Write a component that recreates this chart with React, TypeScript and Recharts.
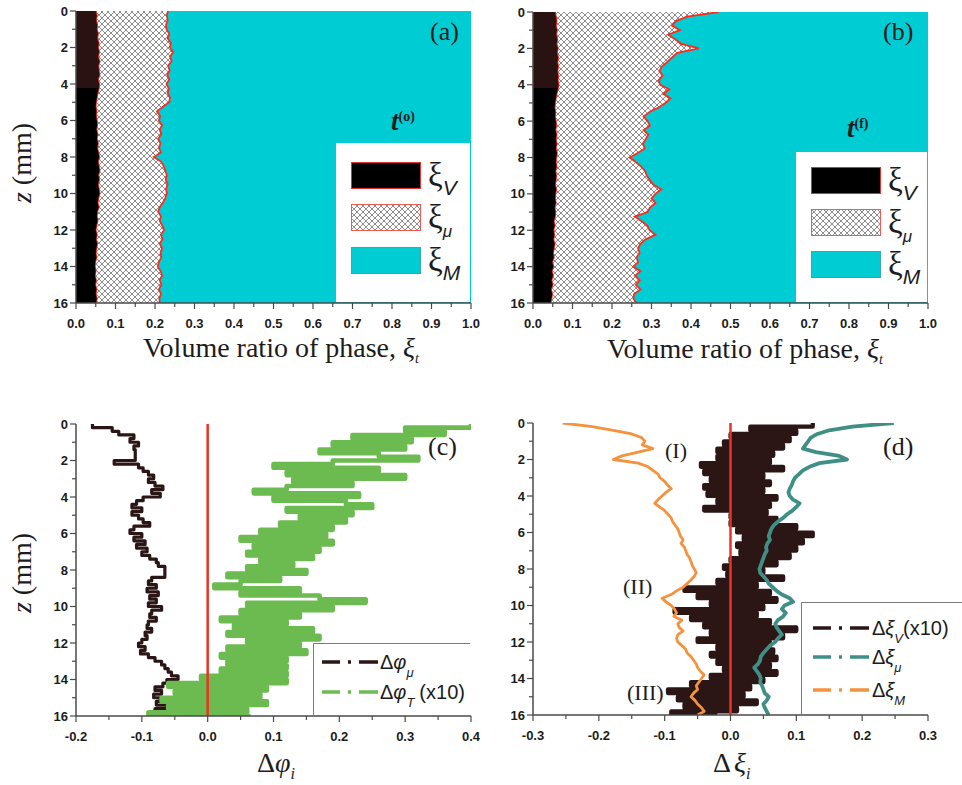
import React from 'react'
import {
  ComposedChart,
  Area,
  Line,
  XAxis,
  YAxis,
  CartesianGrid,
  ReferenceLine,
  Legend,
} from 'recharts'

// depth grids (mm)
const Z_QUARTER = [
  0, 0.25, 0.5, 0.75, 1, 1.25, 1.5, 1.75, 2, 2.25, 2.5, 2.75, 3, 3.25, 3.5, 3.75, 4, 4.25, 4.5, 4.75, 5,
  5.25, 5.5, 5.75, 6, 6.25, 6.5, 6.75, 7, 7.25, 7.5, 7.75, 8, 8.25, 8.5, 8.75, 9, 9.25, 9.5, 9.75, 10,
  10.25, 10.5, 10.75, 11, 11.25, 11.5, 11.75, 12, 12.25, 12.5, 12.75, 13, 13.25, 13.5, 13.75, 14, 14.25,
  14.5, 14.75, 15, 15.25, 15.5, 15.75, 16,
]
const Z_FIFTH = [
  0, 0.2, 0.4, 0.6, 0.8, 1, 1.2, 1.4, 1.6, 1.8, 2, 2.2, 2.4, 2.6, 2.8, 3, 3.2, 3.4, 3.6, 3.8, 4, 4.2, 4.4,
  4.6, 4.8, 5, 5.2, 5.4, 5.6, 5.8, 6, 6.2, 6.4, 6.6, 6.8, 7, 7.2, 7.4, 7.6, 7.8, 8, 8.2, 8.4, 8.6, 8.8, 9,
  9.2, 9.4, 9.6, 9.8, 10, 10.2, 10.4, 10.6, 10.8, 11, 11.2, 11.4, 11.6, 11.8, 12, 12.2, 12.4, 12.6, 12.8,
  13, 13.2, 13.4, 13.6, 13.8, 14, 14.2, 14.4, 14.6, 14.8, 15, 15.2, 15.4, 15.6, 15.8, 16,
]

// (a) t(o) volume ratios
const XI_V_A = [
  0.052, 0.055, 0.053, 0.056, 0.055, 0.058, 0.056, 0.06, 0.058, 0.061, 0.058, 0.062, 0.059, 0.06, 0.062,
  0.058, 0.061, 0.06, 0.057, 0.055, 0.053, 0.052, 0.054, 0.053, 0.055, 0.056, 0.054, 0.057, 0.055, 0.058,
  0.056, 0.059, 0.061, 0.058, 0.06, 0.062, 0.059, 0.061, 0.058, 0.06, 0.062, 0.059, 0.057, 0.06, 0.056,
  0.055, 0.057, 0.054, 0.052, 0.055, 0.053, 0.056, 0.054, 0.052, 0.054, 0.051, 0.05, 0.052, 0.05, 0.053,
  0.051, 0.054, 0.052, 0.055, 0.053,
]
const XI_MU_A = [
  0.181, 0.175, 0.179, 0.172, 0.174, 0.178, 0.176, 0.18, 0.18, 0.185, 0.18, 0.18, 0.174, 0.177, 0.169,
  0.178, 0.168, 0.175, 0.175, 0.183, 0.183, 0.168, 0.151, 0.16, 0.155, 0.162, 0.158, 0.159, 0.153, 0.156,
  0.154, 0.156, 0.136, 0.157, 0.162, 0.164, 0.171, 0.166, 0.174, 0.168, 0.168, 0.167, 0.163, 0.152, 0.152,
  0.16, 0.155, 0.164, 0.171, 0.16, 0.166, 0.156, 0.164, 0.162, 0.162, 0.159, 0.157, 0.162, 0.168, 0.159,
  0.165, 0.156, 0.163, 0.156, 0.159,
]

// (b) t(f) volume ratios
const XI_V_B = [
  0.058, 0.06, 0.062, 0.06, 0.063, 0.061, 0.064, 0.062, 0.065, 0.063, 0.066, 0.064, 0.066, 0.064, 0.066,
  0.065, 0.067, 0.065, 0.062, 0.06, 0.058, 0.057, 0.059, 0.058, 0.06, 0.061, 0.059, 0.062, 0.06, 0.062,
  0.06, 0.063, 0.061, 0.06, 0.062, 0.059, 0.061, 0.06, 0.058, 0.061, 0.059, 0.058, 0.06, 0.057, 0.059,
  0.058, 0.055, 0.057, 0.054, 0.056, 0.054, 0.057, 0.055, 0.053, 0.055, 0.051, 0.054, 0.05, 0.053, 0.049,
  0.052, 0.048, 0.051, 0.049, 0.047,
]
const XI_MU_B = [
  0.412, 0.33, 0.3, 0.292, 0.309, 0.281, 0.296, 0.313, 0.355, 0.302, 0.286, 0.276, 0.26, 0.256, 0.262,
  0.253, 0.255, 0.28, 0.268, 0.288, 0.277, 0.261, 0.236, 0.222, 0.23, 0.235, 0.221, 0.23, 0.225, 0.216,
  0.223, 0.202, 0.184, 0.2, 0.212, 0.225, 0.227, 0.236, 0.247, 0.264, 0.251, 0.242, 0.25, 0.239, 0.231,
  0.2, 0.22, 0.233, 0.241, 0.254, 0.231, 0.215, 0.211, 0.217, 0.207, 0.215, 0.2, 0.222, 0.205, 0.221,
  0.208, 0.224, 0.205, 0.205, 0.215,
]

// (c) porosity changes
const DPHI_MU = [
  -0.175, -0.145, -0.135, -0.112, -0.118, -0.105, -0.112, -0.11, -0.11, -0.11, -0.142, -0.105, -0.098,
  -0.09, -0.082, -0.09, -0.08, -0.068, -0.085, -0.072, -0.098, -0.108, -0.115, -0.1, -0.115, -0.105,
  -0.098, -0.088, -0.112, -0.118, -0.1, -0.112, -0.095, -0.108, -0.092, -0.1, -0.088, -0.078, -0.075,
  -0.065, -0.065, -0.065, -0.085, -0.09, -0.078, -0.092, -0.075, -0.088, -0.078, -0.09, -0.07, -0.085,
  -0.088, -0.078, -0.09, -0.092, -0.085, -0.095, -0.092, -0.1, -0.105, -0.095, -0.102, -0.09, -0.08,
  -0.07, -0.065, -0.06, -0.055, -0.045, -0.062, -0.068, -0.08, -0.07, -0.082, -0.072, -0.078, -0.062,
  -0.08, -0.068, -0.075,
]
const DPHI_T = [
  0.4, 0.3, 0.36, 0.22, 0.31, 0.19, 0.3, 0.17, 0.26, 0.32, 0.19, 0.1, 0.26, 0.12, 0.3, 0.13, 0.22, 0.12,
  0.07, 0.23, 0.1, 0.21, 0.25, 0.12, 0.22, 0.14, 0.21, 0.11, 0.19, 0.08, 0.18, 0.05, 0.19, 0.07, 0.17,
  0.06, 0.16, 0.08, 0.13, 0.06, 0.15, 0.03, 0.11, 0.05, 0.01, 0.14, 0.05, 0.17, 0.24, 0.06, 0.19, 0.05,
  0.14, 0.02, 0.12, 0.04, 0.16, 0.03, 0.17, 0.06, 0.14, 0.03, 0.15, 0.02, 0.12, 0.03, 0.12, 0.02, 0.12,
  -0.01, 0.12, -0.06, 0.09, -0.05, 0.08, -0.07, 0.09, -0.06, 0.06, -0.09, 0.065,
]

// (d) volume ratio changes
const DXI_V = [
  0.125, 0.03, 0.1, 0.0, 0.09, -0.01, 0.08, -0.02, 0.065, -0.02, 0.06, -0.045, 0.08, -0.04, 0.05, -0.03,
  0.06, -0.04, 0.05, -0.035, 0.07, -0.02, 0.06, -0.04, 0.055, 0.0, 0.07, 0.0, 0.1, 0.01, 0.125, 0.02, 0.11,
  0.01, 0.1, 0.015, 0.09, 0.0, 0.07, -0.01, 0.05, -0.005, 0.08, -0.02, 0.04, -0.07, 0.06, -0.05, 0.07,
  -0.03, 0.05, -0.085, 0.04, -0.06, 0.06, -0.04, 0.1, -0.03, 0.08, -0.05, 0.06, -0.02, 0.065, -0.03, 0.07,
  -0.02, 0.06, -0.01, 0.07, -0.03, 0.05, -0.06, 0.03, -0.095, 0.02, -0.08, 0.04, -0.07, 0.01, -0.09, -0.02,
]
const DXI_MU = [
  0.248, 0.185, 0.15, 0.132, 0.122, 0.118, 0.114, 0.11, 0.13, 0.165, 0.177, 0.135, 0.12, 0.11, 0.104,
  0.098, 0.095, 0.093, 0.09, 0.088, 0.09, 0.095, 0.105, 0.1, 0.094, 0.086, 0.08, 0.072, 0.066, 0.062, 0.06,
  0.058, 0.06, 0.056, 0.054, 0.055, 0.052, 0.05, 0.048, 0.046, 0.044, 0.045, 0.05, 0.055, 0.058, 0.064,
  0.07, 0.078, 0.09, 0.095, 0.082, 0.078, 0.084, 0.08, 0.072, 0.068, 0.07, 0.074, 0.078, 0.072, 0.068,
  0.06, 0.055, 0.05, 0.046, 0.045, 0.042, 0.036, 0.04, 0.044, 0.046, 0.045, 0.048, 0.05, 0.052, 0.058,
  0.055, 0.05, 0.052, 0.055, 0.058,
]
const DXI_M = [
  -0.255, -0.21, -0.178, -0.15, -0.135, -0.13, -0.134, -0.118, -0.14, -0.165, -0.178, -0.14, -0.125,
  -0.118, -0.11, -0.107, -0.1, -0.096, -0.09, -0.098, -0.104, -0.11, -0.115, -0.108, -0.1, -0.095, -0.09,
  -0.088, -0.084, -0.08, -0.078, -0.076, -0.072, -0.075, -0.07, -0.068, -0.066, -0.062, -0.06, -0.058,
  -0.055, -0.052, -0.055, -0.06, -0.066, -0.072, -0.082, -0.09, -0.104, -0.098, -0.09, -0.085, -0.082,
  -0.086, -0.074, -0.08, -0.078, -0.072, -0.08, -0.082, -0.08, -0.074, -0.068, -0.066, -0.06, -0.056,
  -0.052, -0.05, -0.046, -0.04, -0.044, -0.048, -0.052, -0.05, -0.056, -0.06, -0.054, -0.05, -0.044,
  -0.04, -0.05,
]

// tick positions
const TICKS_UNIT = [
  0, 0.05, 0.1, 0.15, 0.2, 0.25, 0.3, 0.35, 0.4, 0.45, 0.5, 0.55, 0.6, 0.65, 0.7, 0.75, 0.8, 0.85, 0.9,
  0.95, 1,
]
const TICKS_C = [-0.2, -0.15, -0.1, -0.05, 0, 0.05, 0.1, 0.15, 0.2, 0.25, 0.3, 0.35, 0.4]
const TICKS_D = [-0.3, -0.25, -0.2, -0.15, -0.1, -0.05, 0, 0.05, 0.1, 0.15, 0.2, 0.25, 0.3]
const TICKS_Z = [0, 1, 2, 3, 4, 5, 6, 7, 8, 9, 10, 11, 12, 13, 14, 15, 16]

const dataA = Z_QUARTER.map((z, i) => ({ z, v: XI_V_A[i], mu: XI_MU_A[i] }))
const dataB = Z_QUARTER.map((z, i) => ({ z, v: XI_V_B[i], mu: XI_MU_B[i] }))
const dataC = Z_FIFTH.map((z, i) => ({ z, mu: DPHI_MU[i], t: DPHI_T[i] }))
const dataD = Z_FIFTH.map((z, i) => ({ z, v: DXI_V[i], mu: DXI_MU[i], m: DXI_M[i] }))

const SERIF = '"Liberation Serif", "Times New Roman", serif'
const SANS = '"Liberation Sans", Arial, sans-serif'
const AXIS = '#4a4a4a'
const CYAN = '#00ccd4'
const EDGE = '#ff2a1c'
const RED = '#ee3124'
const INK = '#1c1c1c'

const isMajorX = (v: number) => Math.abs(v * 10 - Math.round(v * 10)) < 1e-6
const fmtX = (v: number) => (Math.abs(v) < 1e-9 ? '0.0' : v.toFixed(1))

function XTick(props: any) {
  const { x, y, payload } = props
  const major = isMajorX(payload.value)
  return (
    <g>
      <line x1={x} x2={x} y1={y} y2={y + (major ? 6 : 4)} stroke={AXIS} strokeWidth={1.2} />
      {major && (
        <text x={x} y={y + 20} textAnchor="middle" dominantBaseline="central" fontFamily={SANS} fontWeight={700} fontSize={13} fill={INK}>
          {fmtX(payload.value)}
        </text>
      )}
    </g>
  )
}

function YTick(props: any) {
  const { x, y, payload } = props
  const major = payload.value % 2 === 0
  return (
    <g>
      <line x1={x - (major ? 6 : 4)} x2={x} y1={y} y2={y} stroke={AXIS} strokeWidth={1.2} />
      {major && (
        <text x={x - 8} y={y} textAnchor="end" dominantBaseline="central" fontFamily={SANS} fontWeight={700} fontSize={13} fill={INK}>
          {payload.value}
        </text>
      )}
    </g>
  )
}

function PhaseLegend({ id, w, h, rows }: any) {
  const items = [
    { fill: '#000', stroke: '#e0322a', sub: 'V', size: 21 },
    { fill: `url(#hatch-${id})`, stroke: '#ef5a50', sub: 'μ', size: 17 },
    { fill: CYAN, stroke: '#3aa8ae', sub: 'M', size: 21 },
  ]
  return (
    <div style={{ width: w, height: h, background: '#fff' }}>
      <svg width={w} height={h} style={{ display: 'block' }}>
        {items.map((it, i) => (
          <g key={it.sub}>
            <rect x={15.5} y={rows[i] + 0.5} width={69} height={26} fill={it.fill} stroke={it.stroke} strokeWidth={1} />
            <text x={92} y={rows[i] + 24} fontFamily={SERIF} fontSize={33} fill={INK}>
              ξ
              <tspan dy={9} fontFamily={SANS} fontStyle="italic" fontSize={it.size}>
                {it.sub}
              </tspan>
            </text>
          </g>
        ))}
      </svg>
    </div>
  )
}

function LineLegend({ w, h, lx, tx, items }: any) {
  return (
    <div style={{ width: w, height: h, background: '#fff' }}>
      <svg width={w} height={h} style={{ display: 'block' }}>
        <path d={`M0.5,${h} L0.5,0.5 L${w},0.5`} fill="none" stroke="#7a7a7a" strokeWidth={1} />
        {items.map((it: any, i: number) => (
          <g key={i}>
            <line x1={lx} x2={lx + 56} y1={it.y} y2={it.y} stroke={it.color} strokeWidth={3.5} strokeDasharray="18 8 3 8 19" />
            <text x={tx} y={it.y + 7} fontFamily={SANS} fontSize={20} fill={INK}>
              Δ<tspan fontStyle="italic">{it.greek}</tspan>
              <tspan fontSize={13} dy={8} fontStyle="italic">
                {it.sub}
              </tspan>
              {it.tail && (
                <tspan dy={-8} dx={it.gap}>
                  {it.tail}
                </tspan>
              )}
            </text>
          </g>
        ))}
      </svg>
    </div>
  )
}

function PhasePanel({ id, data, left, top, width, height, margin, yWidth, rows, box }: any) {
  return (
    <div style={{ position: 'absolute', left, top, width, height }}>
      <ComposedChart layout="vertical" width={width} height={height} data={data} margin={margin}>
        <defs>
          <pattern id={`hatch-${id}`} width={6} height={6} patternUnits="userSpaceOnUse">
            <rect width={6} height={6} fill="#fff" />
            <path d="M0,6 L6,0 M-1,1 L1,-1 M5,7 L7,5 M0,0 L6,6 M-1,5 L1,7 M5,-1 L7,1" stroke="#6e6e6e" strokeWidth={0.8} />
          </pattern>
          <linearGradient id={`void-${id}`} x1="0" y1="0" x2="0" y2="1">
            <stop offset="0" stopColor="#2a1212" />
            <stop offset="0.2625" stopColor="#2a1212" />
            <stop offset="0.2625" stopColor="#000" />
            <stop offset="1" stopColor="#000" />
          </linearGradient>
        </defs>
        <CartesianGrid horizontal={false} vertical={false} fill={CYAN} fillOpacity={1} />
        <XAxis
          type="number"
          domain={[0, 1]}
          allowDataOverflow
          ticks={TICKS_UNIT}
          interval={0}
          tick={<XTick />}
          tickLine={false}
          tickSize={0}
          tickMargin={0}
          height={30}
          axisLine={{ stroke: AXIS, strokeWidth: 1.5 }}
        />
        <XAxis xAxisId="top" orientation="top" type="number" domain={[0, 1]} tick={false} tickLine={false} height={0} axisLine={{ stroke: AXIS, strokeWidth: 1.5 }} />
        <YAxis
          type="number"
          dataKey="z"
          domain={[0, 16]}
          allowDataOverflow
          ticks={TICKS_Z}
          interval={0}
          tick={<YTick />}
          tickLine={false}
          tickSize={0}
          tickMargin={0}
          width={yWidth}
          axisLine={{ stroke: AXIS, strokeWidth: 1.5 }}
        />
        <YAxis yAxisId="right" orientation="right" type="number" domain={[0, 16]} tick={false} tickLine={false} width={0} axisLine={{ stroke: AXIS, strokeWidth: 1.5 }} />
        <Area dataKey="v" name="ξV" stackId="phase" type="linear" fill={`url(#void-${id})`} fillOpacity={1} stroke={EDGE} strokeWidth={1.8} isAnimationActive={false} />
        <Area dataKey="mu" name="ξμ" stackId="phase" type="linear" fill={`url(#hatch-${id})`} fillOpacity={1} stroke={EDGE} strokeWidth={1.8} isAnimationActive={false} />
        <Legend
          layout="vertical"
          align="center"
          verticalAlign="middle"
          wrapperStyle={{ left: box.left, top: box.top, width: box.width, height: box.height }}
          content={() => <PhaseLegend id={id} w={box.width} h={box.height} rows={rows} />}
        />
      </ComposedChart>
    </div>
  )
}

function ProfilePanel({ data, left, top, width, height, margin, yWidth, domain, ticks, series, box, legend }: any) {
  return (
    <div style={{ position: 'absolute', left, top, width, height }}>
      <ComposedChart layout="vertical" width={width} height={height} data={data} margin={margin}>
        <XAxis
          type="number"
          domain={domain}
          allowDataOverflow
          ticks={ticks}
          interval={0}
          tick={<XTick />}
          tickLine={false}
          tickSize={0}
          tickMargin={0}
          height={30}
          axisLine={{ stroke: AXIS, strokeWidth: 1.5 }}
        />
        <XAxis xAxisId="top" orientation="top" type="number" domain={domain} tick={false} tickLine={false} height={0} axisLine={{ stroke: AXIS, strokeWidth: 1.5 }} />
        <YAxis
          type="number"
          dataKey="z"
          domain={[0, 16]}
          allowDataOverflow
          ticks={TICKS_Z}
          interval={0}
          tick={<YTick />}
          tickLine={false}
          tickSize={0}
          tickMargin={0}
          width={yWidth}
          axisLine={{ stroke: AXIS, strokeWidth: 1.5 }}
        />
        <YAxis yAxisId="right" orientation="right" type="number" domain={[0, 16]} tick={false} tickLine={false} width={0} axisLine={{ stroke: AXIS, strokeWidth: 1.5 }} />
        {series.map((s: any) => (
          <Line
            key={s.key}
            dataKey={s.key}
            name={s.name}
            type={s.type || 'linear'}
            stroke={s.color}
            strokeWidth={s.width}
            strokeLinejoin="round"
            dot={false}
            isAnimationActive={false}
          />
        ))}
        <ReferenceLine x={0} stroke={RED} strokeWidth={2.5} />
        <Legend
          layout="vertical"
          align="center"
          verticalAlign="middle"
          wrapperStyle={{ left: box.left, top: box.top, width: box.width, height: box.height }}
          content={() => <LineLegend w={box.width} h={box.height} {...legend} />}
        />
      </ComposedChart>
    </div>
  )
}

const BLACK_LINE = '#2b1515'
const GREEN = '#6cbb50'
const TEAL = '#3f8f86'
const ORANGE = '#f5923e'

export default function App() {
  return (
    <div style={{ position: 'absolute', left: 0, top: 0, width: 962, height: 785, background: '#fff', overflow: 'hidden' }}>
      <PhasePanel
        id="a"
        data={dataA}
        left={0}
        top={0}
        width={480}
        height={370}
        margin={{ top: 11, right: 9, bottom: 37, left: 20 }}
        yWidth={56}
        rows={[19, 61, 104]}
        box={{ left: 336, top: 143, width: 134, height: 159 }}
      />
      <PhasePanel
        id="b"
        data={dataB}
        left={480}
        top={0}
        width={480}
        height={370}
        margin={{ top: 12, right: 32, bottom: 37, left: 0 }}
        yWidth={53}
        rows={[15, 57, 99]}
        box={{ left: 316, top: 152, width: 131, height: 150 }}
      />
      <ProfilePanel
        data={dataC}
        left={0}
        top={400}
        width={480}
        height={385}
        margin={{ top: 24, right: 9, bottom: 39, left: 20 }}
        yWidth={56}
        domain={[-0.2, 0.4]}
        ticks={TICKS_C}
        series={[
          { key: 'mu', name: 'Δφμ', color: BLACK_LINE, width: 3.2, type: 'stepBefore' },
          { key: 't', name: 'ΔφT (x10)', color: GREEN, width: 4.6, type: 'stepBefore' },
        ]}
        box={{ left: 313, top: 243, width: 157, height: 72 }}
        legend={{
          lx: 9,
          tx: 67,
          items: [
            { y: 19, color: BLACK_LINE, greek: 'φ', sub: 'μ' },
            { y: 49, color: GREEN, greek: 'φ', sub: 'T', tail: '(x10)', gap: 5 },
          ],
        }}
      />
      <ProfilePanel
        data={dataD}
        left={480}
        top={400}
        width={482}
        height={385}
        margin={{ top: 23, right: 34, bottom: 40, left: 0 }}
        yWidth={53}
        domain={[-0.3, 0.3]}
        ticks={TICKS_D}
        series={[
          { key: 'v', name: 'ΔξV(x10)', color: BLACK_LINE, width: 4.2, type: 'stepBefore' },
          { key: 'mu', name: 'Δξμ', color: TEAL, width: 3.8 },
          { key: 'm', name: 'ΔξM', color: ORANGE, width: 2.8 },
        ]}
        box={{ left: 321, top: 202, width: 161, height: 112 }}
        legend={{
          lx: 12,
          tx: 71,
          items: [
            { y: 26, color: BLACK_LINE, greek: 'ξ', sub: 'V', tail: '(x10)', gap: 0 },
            { y: 55, color: TEAL, greek: 'ξ', sub: 'μ' },
            { y: 88, color: ORANGE, greek: 'ξ', sub: 'M' },
          ],
        }}
      />
      <svg width={962} height={785} style={{ position: 'absolute', left: 0, top: 0, pointerEvents: 'none' }}>
        <g fontFamily={SERIF} fill={INK}>
          <text transform="translate(31,163) rotate(-90)" textAnchor="middle" fontSize={28}>
            <tspan fontStyle="italic">z</tspan> (mm)
          </text>
          <text transform="translate(31,573) rotate(-90)" textAnchor="middle" fontSize={28}>
            <tspan fontStyle="italic">z</tspan> (mm)
          </text>
          <text x={143} y={357} fontSize={28}>
            Volume ratio of phase, <tspan fontStyle="italic">ξ</tspan>
            <tspan fontSize={14} dy={6} fontStyle="italic">t</tspan>
          </text>
          <text x={607} y={358} fontSize={28}>
            Volume ratio of phase, <tspan fontStyle="italic">ξ</tspan>
            <tspan fontSize={14} dy={6} fontStyle="italic">t</tspan>
          </text>
          <text x={257} y={772} fontSize={28}>
            Δ<tspan fontStyle="italic">φ</tspan>
            <tspan fontSize={16} dy={7} fontStyle="italic">i</tspan>
          </text>
          <text x={713} y={772} fontSize={28}>
            Δ<tspan dx={3} fontStyle="italic">ξ</tspan>
            <tspan fontSize={16} dy={7} fontStyle="italic">i</tspan>
          </text>
          <text x={430} y={40} fontSize={26}>(a)</text>
          <text x={883} y={40} fontSize={26}>(b)</text>
          <text x={428} y={455} fontSize={26}>(c)</text>
          <text x={883} y={455} fontSize={26}>(d)</text>
          <text x={391} y={130} fontSize={27} fontStyle="italic" fontWeight={700}>
            t<tspan fontSize={14} dy={-9} fontStyle="normal">(o)</tspan>
          </text>
          <text x={847} y={137} fontSize={27} fontStyle="italic" fontWeight={700}>
            t<tspan fontSize={14} dy={-9} fontStyle="normal">(f)</tspan>
          </text>
          <text x={665} y={458} fontSize={22}>(I)</text>
          <text x={623} y={594} fontSize={22}>(II)</text>
          <text x={627} y={700} fontSize={22}>(III)</text>
        </g>
      </svg>
    </div>
  )
}
